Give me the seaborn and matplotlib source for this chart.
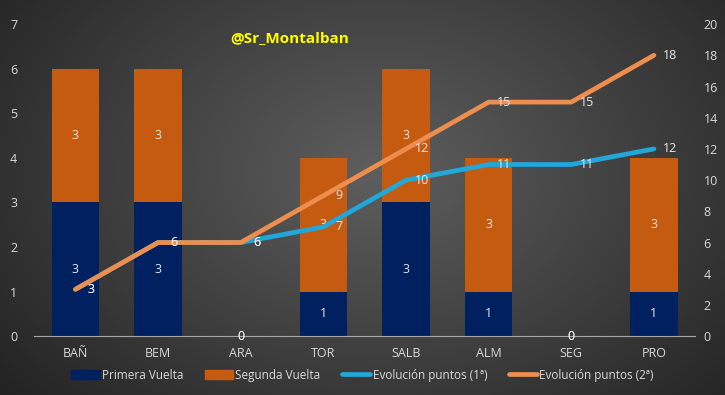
import numpy as np
import matplotlib
matplotlib.use("Agg")
import matplotlib.pyplot as plt
from matplotlib.patches import Patch
from matplotlib.lines import Line2D
import seaborn as sns

cats = ["BAÑ", "BEM", "ARA", "TOR", "SALB", "ALM", "SEG", "PRO"]
primera = [3, 3, 0, 1, 3, 1, 0, 1]
segunda = [3, 3, 0, 3, 3, 3, 0, 3]
evol1 = [3, 6, 6, 7, 10, 11, 11, 12]
evol2 = [3, 6, 6, 9, 12, 15, 15, 18]

navy = "#002060"
orange = "#C55A11"
blue_line = "#22A7DA"
orange_line = "#EE8E4E"
txt = "#D9D9D9"

sns.set_style("white")
plt.rcParams['font.family'] = ['Open Sans', 'DejaVu Sans']

fig = plt.figure(figsize=(7.25, 3.95), dpi=100)

# dark radial gradient background
bg = fig.add_axes([0, 0, 1, 1], zorder=-10)
yy, xx = np.mgrid[0:395, 0:725]
d = np.sqrt(((xx - 380) / 420.0) ** 2 + ((yy - 170) / 300.0) ** 2)
shade = np.clip(0.37 - 0.2 * d, 0.11, 0.37)
bg.imshow(np.dstack([shade] * 3), aspect="auto", extent=[0, 1, 0, 1])
bg.axis("off")

ax = fig.add_axes([0.047, 0.149, 0.912, 0.79])
ax.patch.set_alpha(0)

total = [p + s for p, s in zip(primera, segunda)]
sns.barplot(x=cats, y=total, color=orange, saturation=1, width=0.57, ax=ax, edgecolor="none")
sns.barplot(x=cats, y=primera, color=navy, saturation=1, width=0.57, ax=ax, edgecolor="none")

for i, (p, s) in enumerate(zip(primera, segunda)):
    ax.text(i, p / 2, str(p), color="#E8E8E8", ha="center", va="center", fontsize=9)
    ax.text(i, p + s / 2, str(s), color="#E8E8E8", ha="center", va="center", fontsize=9)

ax.set_ylim(0, 7)
ax.set_xlim(-0.5, 7.5)
ax.set_xlabel("")
ax.set_ylabel("")
for sp in ["top", "left", "right"]:
    ax.spines[sp].set_visible(False)
ax.spines["bottom"].set_color("#A6A6A6")
ax.tick_params(colors=txt, labelsize=9, length=0, pad=8)
ax.tick_params(axis="y", pad=12)

ax2 = ax.twinx()
sns.lineplot(x=list(range(len(cats))), y=evol1, color=blue_line, linewidth=3.4, ax=ax2)
sns.lineplot(x=list(range(len(cats))), y=evol2, color=orange_line, linewidth=3.4, ax=ax2)
for i, v in enumerate(evol1):
    ax2.text(i + 0.19, v, str(v), color="#E8E8E8", ha="center", va="center", fontsize=9)
for i, v in enumerate(evol2):
    ax2.text(i + 0.19, v, str(v), color="#E8E8E8", ha="center", va="center", fontsize=9)
ax2.set_ylim(0, 20)
ax2.set_yticks(range(0, 21, 2))
ax2.set_xlim(-0.5, 7.5)
ax2.set_ylabel("")
for sp in ["top", "left", "right", "bottom"]:
    ax2.spines[sp].set_visible(False)
ax2.tick_params(colors=txt, labelsize=9, length=0, pad=6)

fig.text(0.40, 0.905, "@Sr_Montalban", color="#FFFF00", fontsize=11,
         fontweight="bold", ha="center", va="center")

handles = [
    Patch(color=navy, label="Primera Vuelta"),
    Patch(color=orange, label="Segunda Vuelta"),
    Line2D([], [], color=blue_line, lw=3.4, label="Evolución puntos (1ª)"),
    Line2D([], [], color=orange_line, lw=3.4, label="Evolución puntos (2ª)"),
]
leg = fig.legend(handles=handles, loc="center", bbox_to_anchor=(0.5, 0.05), ncol=4,
                 frameon=False, fontsize=8.5, handlelength=2.4, handleheight=0.8,
                 columnspacing=1.8, handletextpad=0.2)
for t in leg.get_texts():
    t.set_color(txt)

fig.savefig("out.png", dpi=100)
